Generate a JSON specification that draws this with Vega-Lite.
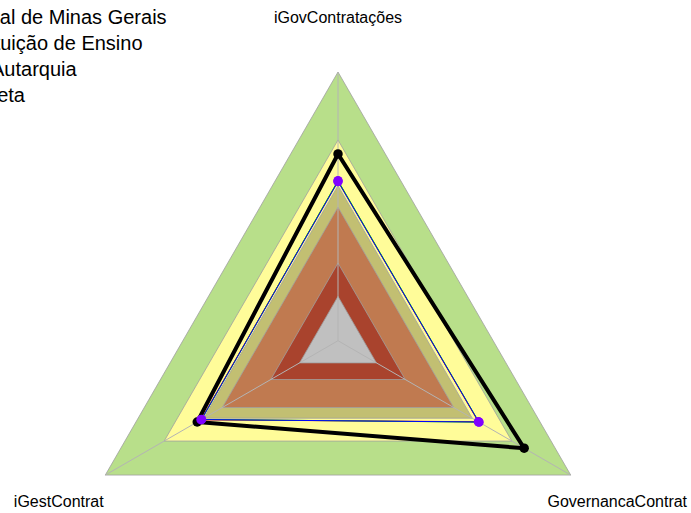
{
  "$schema": "https://vega.github.io/schema/vega-lite/v6.json",
  "width": 691,
  "height": 513,
  "autosize": {"type": "none"},
  "padding": 0,
  "background": "white",
  "config": {"view": {"stroke": null}, "font": "Liberation Sans",
    "legend": {"title": null, "orient": "none", "padding": 0, "labelFontSize": 20, "labelFont": "Liberation Sans", "labelColor": "#000000", "symbolType": "stroke", "symbolSize": 100, "labelOffset": 4, "labelLimit": 600}},
  "resolve": {"scale": {"stroke": "independent"}, "legend": {"stroke": "independent"}},
  "datasets": {
    "bands": [
      {"faixa": "1.000", "eixo": "iGovContratações", "valor": 1.0},
      {"faixa": "1.000", "eixo": "iGestContrat", "valor": 1.0},
      {"faixa": "1.000", "eixo": "GovernancaContrat", "valor": 1.0},
      {"faixa": "0.747", "eixo": "iGovContratações", "valor": 0.747},
      {"faixa": "0.747", "eixo": "iGestContrat", "valor": 0.747},
      {"faixa": "0.747", "eixo": "GovernancaContrat", "valor": 0.747},
      {"faixa": "0.577", "eixo": "iGovContratações", "valor": 0.577},
      {"faixa": "0.577", "eixo": "iGestContrat", "valor": 0.577},
      {"faixa": "0.577", "eixo": "GovernancaContrat", "valor": 0.577},
      {"faixa": "0.497", "eixo": "iGovContratações", "valor": 0.497},
      {"faixa": "0.497", "eixo": "iGestContrat", "valor": 0.497},
      {"faixa": "0.497", "eixo": "GovernancaContrat", "valor": 0.497},
      {"faixa": "0.289", "eixo": "iGovContratações", "valor": 0.289},
      {"faixa": "0.289", "eixo": "iGestContrat", "valor": 0.289},
      {"faixa": "0.289", "eixo": "GovernancaContrat", "valor": 0.289},
      {"faixa": "0.165", "eixo": "iGovContratações", "valor": 0.165},
      {"faixa": "0.165", "eixo": "iGestContrat", "valor": 0.165},
      {"faixa": "0.165", "eixo": "GovernancaContrat", "valor": 0.165}
    ],
    "series": [
      {"serie": "Instituto Federal de Minas Gerais", "eixo": "iGovContratações", "valor": 0.594},
      {"serie": "Instituto Federal de Minas Gerais", "eixo": "iGestContrat", "valor": 0.589},
      {"serie": "Instituto Federal de Minas Gerais", "eixo": "GovernancaContrat", "valor": 0.603},
      {"serie": "Instituição de Ensino", "eixo": "iGovContratações", "valor": 0.596},
      {"serie": "Instituição de Ensino", "eixo": "iGestContrat", "valor": 0.586},
      {"serie": "Instituição de Ensino", "eixo": "GovernancaContrat", "valor": 0.606},
      {"serie": "Autarquia", "eixo": "iGovContratações", "valor": 0.592},
      {"serie": "Autarquia", "eixo": "iGestContrat", "valor": 0.587},
      {"serie": "Autarquia", "eixo": "GovernancaContrat", "valor": 0.605},
      {"serie": "Meta", "eixo": "iGovContratações", "valor": 0.695},
      {"serie": "Meta", "eixo": "iGestContrat", "valor": 0.605},
      {"serie": "Meta", "eixo": "GovernancaContrat", "valor": 0.80}
    ],
    "eixos": [
      {"eixo": "iGovContratações"},
      {"eixo": "iGestContrat"},
      {"eixo": "GovernancaContrat"}
    ]
  },
  "layer": [
    {
      "data": {"name": "bands"},
      "transform": [
        {"calculate": "datum.eixo == 'iGovContratações' ? 90 : (datum.eixo == 'iGestContrat' ? 210 : 330)", "as": "ang"},
        {"calculate": "datum.valor * cos(datum.ang * PI / 180)", "as": "px"},
        {"calculate": "datum.valor * sin(datum.ang * PI / 180)", "as": "py"}
      ],
      "mark": {"type": "line", "interpolate": "linear-closed", "filled": true, "stroke": "#a0a0a0", "strokeWidth": 0.8},
      "encoding": {
        "x": {"field": "px", "type": "quantitative", "scale": {"domain": [-1.2579, 1.3137], "nice": false, "zero": false}, "axis": null},
        "y": {"field": "py", "type": "quantitative", "scale": {"domain": [-0.6412, 1.268], "nice": false, "zero": false}, "axis": null},
        "fill": {"field": "faixa", "type": "nominal", "scale": {"domain": ["1.000", "0.747", "0.577", "0.497", "0.289", "0.165"], "range": ["#B8DF8A", "#FFFC99", "#C2BF72", "#C07A50", "#A9432D", "#C0C0C0"]}, "legend": null},
        "order": {"field": "ang", "type": "quantitative"}
      }
    },
    {
      "data": {"name": "eixos"},
      "transform": [
        {"calculate": "datum.eixo == 'iGovContratações' ? 90 : (datum.eixo == 'iGestContrat' ? 210 : 330)", "as": "ang"},
        {"calculate": "0", "as": "cx"},
        {"calculate": "cos(datum.ang * PI / 180)", "as": "vx"},
        {"calculate": "sin(datum.ang * PI / 180)", "as": "vy"}
      ],
      "mark": {"type": "rule", "color": "#b4b4b4", "strokeWidth": 1},
      "encoding": {
        "x": {"field": "cx", "type": "quantitative"},
        "y": {"field": "cx", "type": "quantitative"},
        "x2": {"field": "vx"},
        "y2": {"field": "vy"}
      }
    },
    {
      "data": {"name": "series"},
      "transform": [
        {"filter": "datum.serie == 'Instituto Federal de Minas Gerais'"},
        {"calculate": "datum.eixo == 'iGovContratações' ? 90 : (datum.eixo == 'iGestContrat' ? 210 : 330)", "as": "ang"},
        {"calculate": "datum.valor * cos(datum.ang * PI / 180)", "as": "px"},
        {"calculate": "datum.valor * sin(datum.ang * PI / 180)", "as": "py"}
      ],
      "mark": {"type": "line", "interpolate": "linear-closed", "strokeWidth": 1},
      "encoding": {
        "x": {"field": "px", "type": "quantitative"},
        "y": {"field": "py", "type": "quantitative"},
        "stroke": {"field": "serie", "type": "nominal", "scale": {"range": ["#FF0000"]}, "legend": {"legendX": -152, "legendY": 8}},
        "order": {"field": "ang", "type": "quantitative"}
      }
    },
    {
      "data": {"name": "series"},
      "transform": [
        {"filter": "datum.serie == 'Instituição de Ensino'"},
        {"calculate": "datum.eixo == 'iGovContratações' ? 90 : (datum.eixo == 'iGestContrat' ? 210 : 330)", "as": "ang"},
        {"calculate": "datum.valor * cos(datum.ang * PI / 180)", "as": "px"},
        {"calculate": "datum.valor * sin(datum.ang * PI / 180)", "as": "py"}
      ],
      "mark": {"type": "line", "interpolate": "linear-closed", "strokeWidth": 1},
      "encoding": {
        "x": {"field": "px", "type": "quantitative"},
        "y": {"field": "py", "type": "quantitative"},
        "stroke": {"field": "serie", "type": "nominal", "scale": {"range": ["#00CD00"]}, "legend": {"legendX": -66, "legendY": 34}},
        "order": {"field": "ang", "type": "quantitative"}
      }
    },
    {
      "data": {"name": "series"},
      "transform": [
        {"filter": "datum.serie == 'Autarquia'"},
        {"calculate": "datum.eixo == 'iGovContratações' ? 90 : (datum.eixo == 'iGestContrat' ? 210 : 330)", "as": "ang"},
        {"calculate": "datum.valor * cos(datum.ang * PI / 180)", "as": "px"},
        {"calculate": "datum.valor * sin(datum.ang * PI / 180)", "as": "py"}
      ],
      "mark": {"type": "line", "interpolate": "linear-closed", "strokeWidth": 1},
      "encoding": {
        "x": {"field": "px", "type": "quantitative"},
        "y": {"field": "py", "type": "quantitative"},
        "stroke": {"field": "serie", "type": "nominal", "scale": {"range": ["#0000FF"]}, "legend": {"legendX": -33, "legendY": 60}},
        "order": {"field": "ang", "type": "quantitative"}
      }
    },
    {
      "data": {"name": "series"},
      "transform": [
        {"filter": "datum.serie == 'Meta'"},
        {"calculate": "datum.eixo == 'iGovContratações' ? 90 : (datum.eixo == 'iGestContrat' ? 210 : 330)", "as": "ang"},
        {"calculate": "datum.valor * cos(datum.ang * PI / 180)", "as": "px"},
        {"calculate": "datum.valor * sin(datum.ang * PI / 180)", "as": "py"}
      ],
      "mark": {"type": "line", "interpolate": "linear-closed", "strokeWidth": 4, "strokeJoin": "miter"},
      "encoding": {
        "x": {"field": "px", "type": "quantitative"},
        "y": {"field": "py", "type": "quantitative"},
        "stroke": {"field": "serie", "type": "nominal", "scale": {"range": ["#000000"]}, "legend": {"legendX": -43.5, "legendY": 85.5}},
        "order": {"field": "ang", "type": "quantitative"}
      }
    },
    {
      "data": {"name": "series"},
      "transform": [
        {"filter": "datum.serie == 'Meta'"},
        {"calculate": "datum.eixo == 'iGovContratações' ? 90 : (datum.eixo == 'iGestContrat' ? 210 : 330)", "as": "ang"},
        {"calculate": "datum.valor * cos(datum.ang * PI / 180)", "as": "px"},
        {"calculate": "datum.valor * sin(datum.ang * PI / 180)", "as": "py"}
      ],
      "mark": {"type": "point", "filled": true, "color": "#000000", "size": 90, "opacity": 1},
      "encoding": {
        "x": {"field": "px", "type": "quantitative"},
        "y": {"field": "py", "type": "quantitative"}
      }
    },
    {
      "data": {"name": "series"},
      "transform": [
        {"filter": "datum.serie != 'Meta'"},
        {"calculate": "datum.eixo == 'iGovContratações' ? 90 : (datum.eixo == 'iGestContrat' ? 210 : 330)", "as": "ang"},
        {"calculate": "datum.valor * cos(datum.ang * PI / 180)", "as": "px"},
        {"calculate": "datum.valor * sin(datum.ang * PI / 180)", "as": "py"}
      ],
      "mark": {"type": "point", "filled": true, "color": "#8000FF", "size": 85, "opacity": 1},
      "encoding": {
        "x": {"field": "px", "type": "quantitative"},
        "y": {"field": "py", "type": "quantitative"}
      }
    },
    {
      "data": {"name": "eixos"},
      "transform": [
        {"calculate": "datum.eixo == 'iGovContratações' ? 90 : (datum.eixo == 'iGestContrat' ? 210 : 330)", "as": "ang"},
        {"calculate": "1.2 * cos(datum.ang * PI / 180)", "as": "lx"},
        {"calculate": "1.2 * sin(datum.ang * PI / 180)", "as": "ly"}
      ],
      "mark": {"type": "text", "fontSize": 16, "font": "Liberation Sans", "align": "center", "baseline": "middle", "color": "#000000"},
      "encoding": {
        "x": {"field": "lx", "type": "quantitative"},
        "y": {"field": "ly", "type": "quantitative"},
        "text": {"field": "eixo", "type": "nominal"}
      }
    }
  ]
}
